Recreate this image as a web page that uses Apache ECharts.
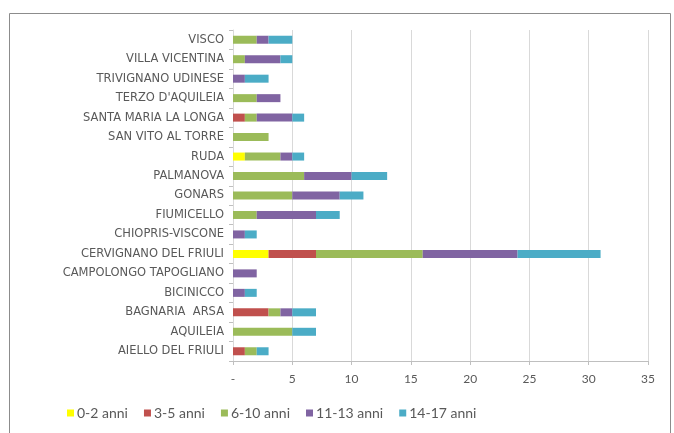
<!DOCTYPE html>
<html>
<head>
<meta charset="utf-8">
<script src="https://cdn.jsdelivr.net/npm/echarts@6/dist/echarts.min.js"></script>
<style>
  html, body { margin: 0; padding: 0; background: #fff; }
  #chart { width: 674px; height: 433px; }
</style>
</head>
<body>
<div id="chart"></div>
<script>
// categories listed bottom to top, as drawn on the y axis
const comuni = [
  'AIELLO DEL FRIULI', 'AQUILEIA', 'BAGNARIA  ARSA', 'BICINICCO',
  'CAMPOLONGO TAPOGLIANO', 'CERVIGNANO DEL FRIULI', 'CHIOPRIS-VISCONE',
  'FIUMICELLO', 'GONARS', 'PALMANOVA', 'RUDA', 'SAN VITO AL TORRE',
  'SANTA MARIA LA LONGA', "TERZO D'AQUILEIA", 'TRIVIGNANO UDINESE',
  'VILLA VICENTINA', 'VISCO'
]
const fasce = ['0-2 anni', '3-5 anni', '6-10 anni', '11-13 anni', '14-17 anni']

const anni0_2   = [0, 0, 0, 0, 0, 3, 0, 0, 0, 0, 1, 0, 0, 0, 0, 0, 0]
const anni3_5   = [1, 0, 3, 0, 0, 4, 0, 0, 0, 0, 0, 0, 1, 0, 0, 0, 0]
const anni6_10  = [1, 5, 1, 0, 0, 9, 0, 2, 5, 6, 3, 3, 1, 2, 0, 1, 2]
const anni11_13 = [0, 0, 1, 1, 2, 8, 1, 5, 4, 4, 1, 0, 3, 2, 1, 3, 1]
const anni14_17 = [1, 2, 2, 1, 0, 7, 1, 2, 2, 3, 1, 0, 1, 0, 2, 1, 2]

const colori = ['#FFFF00', '#C0504D', '#9BBB59', '#8064A2', '#4BACC6']
const serie = [anni0_2, anni3_5, anni6_10, anni11_13, anni14_17]

const font = 'Lato, "DejaVu Sans", sans-serif'
const chart = echarts.init(document.getElementById('chart'))

chart.setOption({
  backgroundColor: '#fff',
  animation: false,
  graphic: [{
    type: 'rect',
    shape: { x: 9.5, y: 13.5, width: 661, height: 440 },
    style: { fill: 'none', stroke: '#8c8c8c', lineWidth: 1 },
    silent: true
  }],
  grid: { left: 233, right: 26, top: 30, bottom: 72 },
  xAxis: {
    type: 'value',
    min: 0,
    max: 35,
    interval: 5,
    axisLine: { show: true, lineStyle: { color: '#bfbfbf' } },
    axisTick: { show: true, length: 4, lineStyle: { color: '#bfbfbf' } },
    splitLine: { lineStyle: { color: '#d9d9d9' } },
    axisLabel: {
      color: '#595959',
      fontFamily: font,
      fontSize: 12,
      margin: 12,
      formatter: v => (v === 0 ? '-' : String(v))
    }
  },
  yAxis: {
    type: 'category',
    data: comuni,
    axisLine: { show: true, lineStyle: { color: '#d9d9d9' } },
    axisTick: { show: true, length: 4, lineStyle: { color: '#bfbfbf' } },
    axisLabel: {
      color: '#595959',
      fontFamily: '"DejaVu Sans", sans-serif',
      fontSize: 11.5,
      margin: 9
    }
  },
  legend: {
    bottom: 8,
    left: 62,
    itemWidth: 7,
    itemHeight: 7,
    itemGap: 16,
    icon: 'rect',
    textStyle: { color: '#595959', fontFamily: font, fontSize: 14, padding: [0, 0, 0, -2] },
    data: fasce
  },
  series: fasce.map((nome, i) => ({
    name: nome,
    type: 'bar',
    stack: 'tot',
    barWidth: 8,
    itemStyle: { color: colori[i] },
    data: serie[i]
  }))
})
</script>
</body>
</html>
